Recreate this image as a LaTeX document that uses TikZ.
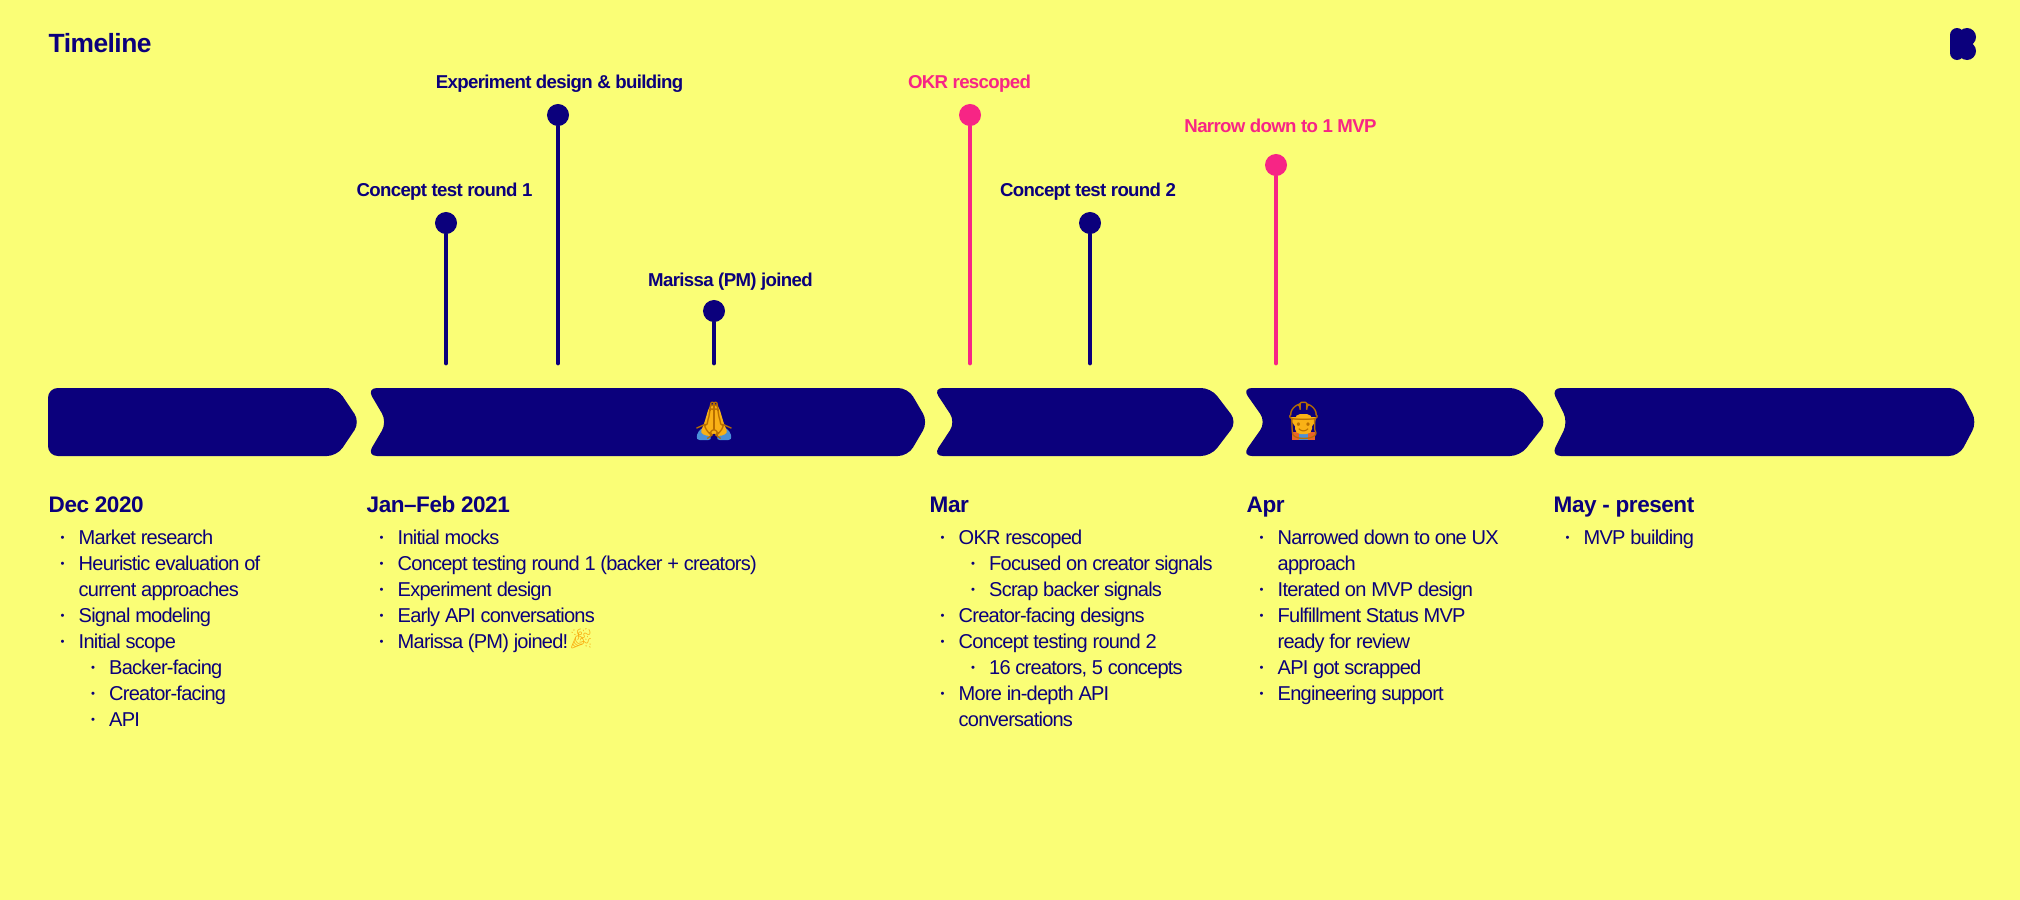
\documentclass[tikz,border=0pt]{standalone}
\usepackage{fontspec}
\setmainfont{Liberation Sans}
\newfontfamily\bodyfont[LetterSpace=-3.9]{Liberation Sans}
\newfontfamily\labelfont[LetterSpace=-3.5]{Liberation Sans Bold}
\newfontfamily\boldfont[LetterSpace=-2]{Liberation Sans Bold}
\newfontfamily\emojifont{Noto Emoji}

\definecolor{paper}{HTML}{FAFE76}
\definecolor{navy}{HTML}{0B007C}
\definecolor{hotpink}{HTML}{F72585}
\definecolor{amber}{HTML}{F9B116}
\definecolor{umber}{HTML}{B86E00}
\definecolor{cuff}{HTML}{4A90D9}
\definecolor{vest}{HTML}{E8622A}

\newcommand{\chev}[4]{\fill[navy,rounded corners=2.8pt] (#1,388)--(#3,388)--(#4,422)--(#3,456)--(#1,456)--(#2,422)--cycle;}
\newcommand{\bulsym}{\llap{\raisebox{0.85pt}{\fontsize{3.2pt}{3.2pt}\selectfont\textbullet}\hspace{4pt}}}

\tikzset{
  pin/.style={circle,inner sep=0pt,minimum size=0.22cm,fill=#1},
  stem/.style={line width=0.048cm,line cap=round,draw=#1},
  toplabel/.style={anchor=base,inner sep=0pt,text=#1,font=\labelfont\fontsize{5.3pt}{6pt}\selectfont},
  head/.style={anchor=base west,inner sep=0pt,text=navy,font=\boldfont\fontsize{6.4pt}{7pt}\selectfont},
  cont/.style={anchor=base west,inner sep=0pt,text=navy,font=\bodyfont\fontsize{5.7pt}{6pt}\selectfont},
  itm/.style={cont,execute at begin node={\bulsym}},
  glyph/.style={inner sep=0pt,text=#1},
}

\begin{document}
\begin{tikzpicture}[x=0.01cm,y=-0.01cm]
\fill[paper] (0,0) rectangle (2020,900);
\useasboundingbox (0,0) rectangle (2020,900);

\path (48,52) node[anchor=base west,inner sep=0pt,text=navy,font=\boldfont\fontsize{7.5pt}{8pt}\selectfont] (title) {Timeline};

% logo
\fill[navy,rounded corners=2pt] (1950,28) rectangle (1964,60);
\fill[navy] (1967,37) circle (9);
\fill[navy] (1967,51) circle (9);

% milestones
\path (446,223) node[pin=navy] (A) {};
\path (558,115) node[pin=navy] (B) {};
\path (714,311) node[pin=navy] (C) {};
\path (970,115) node[pin=hotpink] (D) {};
\path (1090,223) node[pin=navy] (E) {};
\path (1276,165) node[pin=hotpink] (F) {};
\path (446,363) coordinate (a);
\path (558,363) coordinate (b);
\path (714,363) coordinate (c);
\path (970,363) coordinate (d);
\path (1090,363) coordinate (e);
\path (1276,363) coordinate (f);

\draw[stem=navy] (A)--(a);
\draw[stem=navy] (B)--(b);
\draw[stem=navy] (C)--(c);
\draw[stem=hotpink] (D)--(d);
\draw[stem=navy] (E)--(e);
\draw[stem=hotpink] (F)--(f);

\path (444.5,196) node[toplabel=navy] (LA) {Concept test round 1};
\path (559.5,88) node[toplabel=navy] (LB) {Experiment design \& building};
\path (730.5,286) node[toplabel=navy] (LC) {Marissa (PM) joined};
\path (969.5,88) node[toplabel=hotpink] (LD) {OKR rescoped};
\path (1088,196) node[toplabel=navy] (LE) {Concept test round 2};
\path (1280.5,133) node[toplabel=hotpink] (LF) {Narrow down to 1 MVP};

% arrows
\chev{48}{48}{337}{360}
\chev{367}{387}{908}{928}
\chev{933}{955.5}{1211}{1237}
\chev{1242}{1266}{1520}{1547}
\chev{1551}{1568}{1959}{1977}

% emoji
\fill[cuff,rounded corners=1pt] (696,440)--(698,431)--(706,426)--(712,440)--cycle;
\fill[cuff,rounded corners=1pt] (732,440)--(730,431)--(722,426)--(716,440)--cycle;
\fill[amber,rounded corners=1pt] (714,403)--(719,407)--(724,424)--(728,433)--(718,437)--(714,432)--(710,437)--(700,433)--(704,424)--(709,407)--cycle;
\path (714,421) node[glyph=umber,font=\emojifont\fontsize{10.5pt}{11pt}\selectfont] (hands) {🙏};

\fill[vest] (1292,440) rectangle (1315,432);
\fill[cuff] (1299,440) rectangle (1308,432);
\fill[amber,rounded corners=1.5pt] (1295,414) rectangle (1312,434);
\fill[amber] (1291,417) arc (180:0:12.5) -- cycle;
\path (1303.5,421) node[glyph=umber,font=\emojifont\fontsize{10.5pt}{11pt}\selectfont] (worker) {👷};

% columns
\path (48,512) node[head] (H1) {Dec 2020};
\path (78,544) node[itm] (a1) {Market research};
\path (78,570) node[itm] (a2) {Heuristic evaluation of};
\path (78,596) node[cont] (a3) {current approaches};
\path (78,622.5) node[itm] (a4) {Signal modeling};
\path (78,648.5) node[itm] (a5) {Initial scope};
\path (108.5,674.5) node[itm] (a6) {Backer-facing};
\path (108.5,700.5) node[itm] (a7) {Creator-facing};
\path (108.5,726.5) node[itm] (a8) {API};

\path (366,512) node[head] (H2) {Jan–Feb 2021};
\path (397,544) node[itm] (b1) {Initial mocks};
\path (397,570) node[itm] (b2) {Concept testing round 1 (backer + creators)};
\path (397,596) node[itm] (b3) {Experiment design};
\path (397,622.5) node[itm] (b4) {Early API conversations};
\path (397,648.5) node[itm] (b5) {Marissa (PM) joined!};
\path (581,638.5) node[glyph=amber,font=\emojifont\fontsize{5.7pt}{6pt}\selectfont] (party) {🎉};

\path (929,512) node[head] (H3) {Mar};
\path (958,544) node[itm] (c1) {OKR rescoped};
\path (988.5,570) node[itm] (c2) {Focused on creator signals};
\path (988.5,596) node[itm] (c3) {Scrap backer signals};
\path (958,622.5) node[itm] (c4) {Creator-facing designs};
\path (958,648.5) node[itm] (c5) {Concept testing round 2};
\path (988.5,674.5) node[itm] (c6) {16 creators, 5 concepts};
\path (958,700.5) node[itm] (c7) {More in-depth API};
\path (958,726.5) node[cont] (c8) {conversations};

\path (1246,512) node[head] (H4) {Apr};
\path (1277,544) node[itm] (d1) {Narrowed down to one UX};
\path (1277,570) node[cont] (d2) {approach};
\path (1277,596) node[itm] (d3) {Iterated on MVP design};
\path (1277,622.5) node[itm] (d4) {Fulfillment Status MVP};
\path (1277,648.5) node[cont] (d5) {ready for review};
\path (1277,674.5) node[itm] (d6) {API got scrapped};
\path (1277,700.5) node[itm] (d7) {Engineering support};

\path (1553,512) node[head] (H5) {May - present};
\path (1583,544) node[itm] (e1) {MVP building};
\end{tikzpicture}
\end{document}
